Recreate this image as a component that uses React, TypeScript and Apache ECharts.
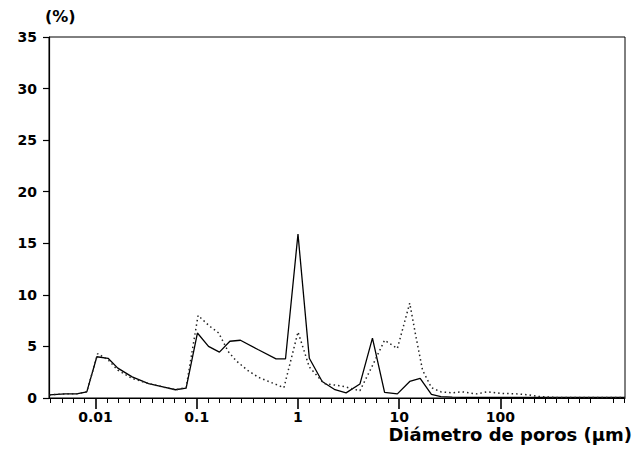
import React, { useEffect, useRef } from "react";
import * as echarts from "echarts";

// Pore diameter (µm) and percentage values
const solidDiameters = [0.0035, 0.005, 0.0065, 0.0082, 0.0103, 0.0133, 0.0166, 0.023, 0.0334, 0.0475, 0.0616, 0.0785, 0.1015, 0.1306, 0.1675, 0.2124, 0.27, 0.402, 0.607, 0.753, 1.0, 1.294, 1.734, 2.32, 2.985, 4.09, 5.44, 7.17, 9.59, 12.7, 16.1, 20.8, 25.8, 33.4, 51.8, 100, 240, 578, 1690];
const solidPercent = [0.3, 0.4, 0.4, 0.6, 4.0, 3.85, 2.9, 2.05, 1.4, 1.05, 0.8, 0.95, 6.3, 5.0, 4.45, 5.5, 5.6, 4.7, 3.8, 3.8, 15.9, 3.85, 1.6, 0.8, 0.5, 1.35, 5.8, 0.55, 0.4, 1.6, 1.9, 0.35, 0.13, 0.08, 0.05, 0.05, 0.05, 0.05, 0.05];

const dottedDiameters = [0.0035, 0.005, 0.0065, 0.0082, 0.0105, 0.0133, 0.0166, 0.023, 0.0334, 0.0475, 0.0616, 0.0785, 0.103, 0.1327, 0.1648, 0.2047, 0.2455, 0.316, 0.4074, 0.5445, 0.726, 1.0, 1.294, 1.81, 2.74, 4.09, 5.35, 7.17, 9.59, 12.7, 14.4, 17.0, 20.8, 25.8, 33.4, 41.6, 57.8, 74.6, 100, 144, 193, 240, 373, 1690];
const dottedPercent = [0.3, 0.4, 0.4, 0.6, 4.3, 3.7, 2.7, 1.9, 1.4, 1.05, 0.8, 1.0, 8.0, 7.0, 6.3, 4.5, 3.6, 2.7, 2.0, 1.5, 1.0, 6.4, 3.0, 1.4, 1.15, 0.7, 3.0, 5.6, 4.8, 9.2, 6.3, 2.7, 1.0, 0.6, 0.5, 0.6, 0.4, 0.6, 0.45, 0.4, 0.3, 0.15, 0.05, 0.05];

const xTickValues = [0.01, 0.1, 1, 10, 100];
const xTickLabels = ["0.01", "0.1", "1", "10", "100"];
const xRange = [0.00347, 1700];
const yMin = 0;
const yMax = 35;
const yStep = 5;
const yUnitText = "(%)";
const xTitleText = "Diámetro de poros (µm)";

const FONT = "DejaVu Sans";

export default function App() {
  const ref = useRef<HTMLDivElement>(null);
  useEffect(() => {
    const chart = echarts.init(ref.current as HTMLDivElement, null, { renderer: "svg" });
    const toXY = (d: number[], p: number[]) => d.map((v, i) => [Math.log10(v), p[i]]);
    const tickLogs = xTickValues.map((v) => Math.log10(v));
    chart.setOption({
      animation: false,
      title: [
        {
          text: yUnitText,
          left: 40,
          top: 3,
          textStyle: { fontFamily: FONT, fontSize: 16, fontWeight: "bold", color: "#000" },
        },
        {
          text: xTitleText,
          right: 3,
          top: 424,
          padding: 0,
          textStyle: { fontFamily: FONT, fontSize: 18, fontWeight: "bold", color: "#000", lineHeight: 20 },
        },
      ],
      grid: {
        left: 49,
        right: 10,
        top: 37,
        bottom: 54,
        containLabel: false,
        outerBoundsMode: "none",
        show: true,
        borderColor: "#000",
        borderWidth: 1,
      },
      xAxis: {
        type: "value",
        min: Math.log10(xRange[0]),
        max: Math.log10(xRange[1]),
        axisLine: { show: true, onZero: false, lineStyle: { color: "#000", width: 1.2 } },
        axisTick: {
          show: true,
          customValues: tickLogs,
          length: 11,
          lineStyle: { color: "#000", width: 1.6 },
        },
        minorTick: { show: true, splitNumber: 9, length: 5, lineStyle: { color: "#000", width: 1 } },
        axisLabel: {
          customValues: tickLogs,
          margin: 12,
          fontFamily: FONT,
          fontSize: 14,
          fontWeight: "bold",
          color: "#000",
          lineHeight: 14,
          formatter: (v: number) => {
            const i = tickLogs.findIndex((t) => Math.abs(t - v) < 1e-6);
            return i >= 0 ? xTickLabels[i] : "";
          },
        },
        splitLine: { show: false },
        minorSplitLine: { show: false },
      },
      yAxis: {
        type: "value",
        min: yMin,
        max: yMax,
        interval: yStep,
        axisLine: { show: true, onZero: false, lineStyle: { color: "#000", width: 1.2 } },
        axisTick: { show: true, length: 6, lineStyle: { color: "#000", width: 1.2 } },
        axisLabel: {
          margin: 12,
          fontFamily: FONT,
          fontSize: 14,
          fontWeight: "bold",
          color: "#000",
        },
        splitLine: { show: false },
      },
      series: [
        {
          type: "line",
          name: "solid",
          data: toXY(solidDiameters, solidPercent),
          showSymbol: false,
          symbol: "none",
          lineStyle: { color: "#000", width: 1.3, type: "solid" },
        },
        {
          type: "line",
          name: "dotted",
          data: toXY(dottedDiameters, dottedPercent),
          showSymbol: false,
          symbol: "none",
          lineStyle: { color: "#222", width: 1.5, type: [1.5, 3] },
        },
      ],
    });
    return () => chart.dispose();
  }, []);
  return (
    <div
      ref={ref}
      style={{ position: "fixed", left: 0, top: 0, width: 635, height: 452, background: "#fff" }}
    />
  );
}
